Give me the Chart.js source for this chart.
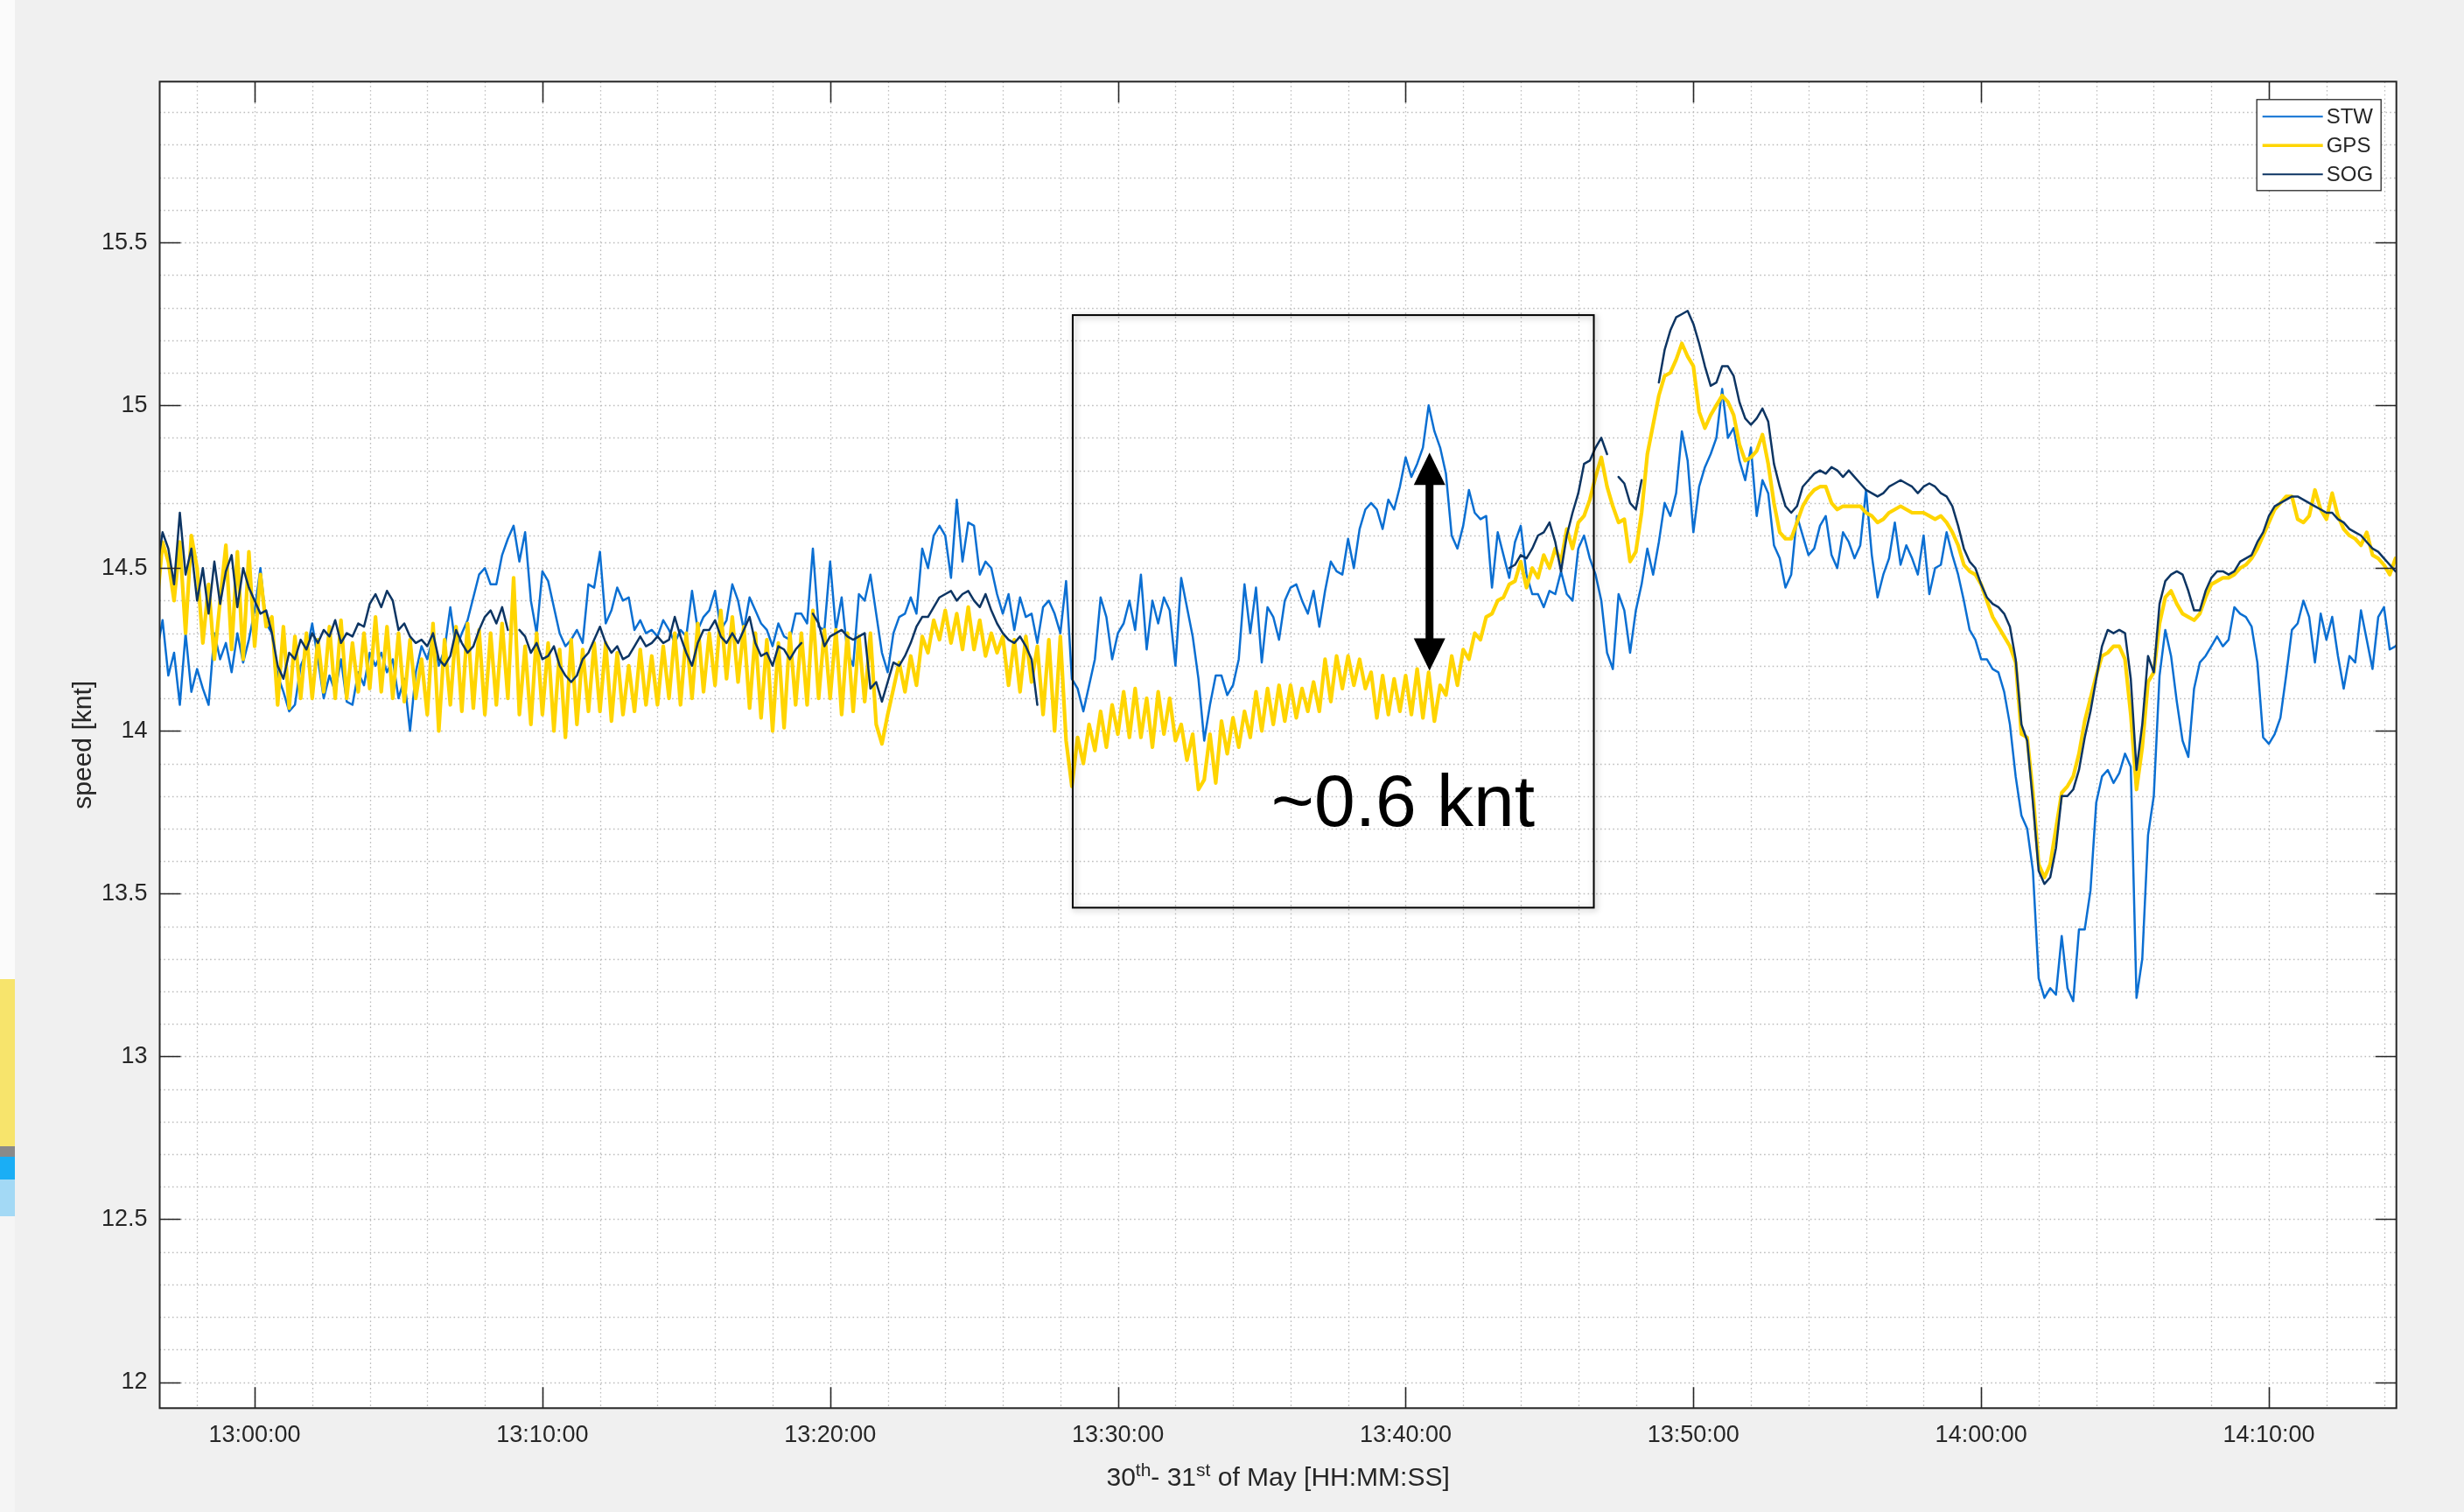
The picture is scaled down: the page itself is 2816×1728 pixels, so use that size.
<!DOCTYPE html>
<html>
<head>
<meta charset="utf-8">
<script src="https://cdn.jsdelivr.net/npm/chart.js@4.4.1/dist/chart.umd.min.js"></script>
<style>
  html, body { margin: 0; padding: 0; background: #f0f0f0; }
  #wrap { position: relative; width: 2816px; height: 1728px; overflow: hidden; background: #f0f0f0; }
  #c { position: absolute; left: 0; top: 0; }
  .deco { position: absolute; }
</style>
</head>
<body>
<div id="wrap">
  <div class="deco" style="left:0;top:0;width:17px;height:1119px;background:#fbfbfb"></div>
  <div class="deco" style="left:0;top:1119px;width:17px;height:191px;background:#f7e46c"></div>
  <div class="deco" style="left:0;top:1310px;width:17px;height:12px;background:#8a8a8a"></div>
  <div class="deco" style="left:0;top:1322px;width:17px;height:26px;background:#1aaef5"></div>
  <div class="deco" style="left:0;top:1348px;width:17px;height:42px;background:#a3d9f5"></div>
  <div class="deco" style="left:0;top:1390px;width:17px;height:338px;background:#f5f5f5"></div>
  <canvas id="c" width="2816" height="1728"></canvas>
</div>
<script>
// ---------------- data (minutes relative to 13:00:00, one sample every 12 s) ----------------
const T_START = -4.0;   // 12:56:00
const T_STEP = 0.2;     // minutes

const STW = [
14.25,14.30,14.20,14.24,14.34, 14.17,14.24,14.08,14.30,14.12, 14.19,14.13,14.08,14.30,14.22, 14.27,14.18,14.30,14.21,14.28,
14.37,14.50,14.33,14.30,14.17, 14.12,14.06,14.08,14.20,14.24, 14.33,14.22,14.10,14.17,14.12, 14.22,14.09,14.08,14.18,14.14,
14.24,14.20,14.24,14.18,14.22, 14.10,14.16,14.00,14.18,14.26, 14.22,14.29,14.20,14.25,14.38, 14.25,14.30,14.34,14.41,14.48,
14.50,14.45,14.45,14.54,14.59, 14.63,14.52,14.61,14.40,14.30, 14.49,14.46,14.38,14.30,14.26, 14.28,14.31,14.27,14.45,14.44,
14.55,14.33,14.37,14.44,14.40, 14.41,14.31,14.34,14.30,14.31, 14.29,14.34,14.31,14.27,14.31, 14.29,14.43,14.31,14.35,14.37,
14.43,14.31,14.34,14.45,14.40, 14.31,14.41,14.37,14.33,14.31, 14.26,14.33,14.29,14.28,14.36, 14.36,14.33,14.56,14.32,14.31,
14.52,14.31,14.41,14.24,14.20, 14.42,14.40,14.48,14.36,14.24, 14.18,14.30,14.35,14.36,14.41, 14.36,14.56,14.50,14.60,14.63,
14.60,14.47,14.71,14.52,14.64, 14.63,14.48,14.52,14.50,14.42, 14.36,14.42,14.31,14.41,14.35, 14.36,14.27,14.38,14.40,14.36,
14.30,14.46,14.16,14.13,14.06, 14.14,14.22,14.41,14.35,14.22, 14.30,14.33,14.40,14.31,14.48, 14.25,14.40,14.33,14.41,14.37,
14.20,14.47,14.38,14.29,14.16, 13.97,14.08,14.17,14.17,14.11, 14.14,14.22,14.45,14.30,14.44, 14.21,14.38,14.35,14.28,14.40,
14.44,14.45,14.40,14.36,14.43, 14.32,14.43,14.52,14.49,14.48, 14.59,14.50,14.62,14.68,14.70, 14.68,14.62,14.71,14.68,14.75,
14.84,14.78,14.82,14.87,15.00, 14.92,14.87,14.79,14.60,14.56, 14.63,14.74,14.67,14.65,14.66, 14.44,14.61,14.54,14.47,14.58,
14.63,14.48,14.42,14.42,14.38, 14.43,14.42,14.49,14.42,14.40, 14.56,14.60,14.53,14.48,14.40, 14.24,14.19,14.42,14.37,14.24,
14.37,14.45,14.56,14.48,14.58, 14.70,14.66,14.73,14.92,14.83, 14.61,14.75,14.81,14.85,14.90, 15.05,14.90,14.93,14.83,14.77,
14.87,14.66,14.77,14.73,14.57, 14.53,14.44,14.48,14.66,14.60, 14.54,14.56,14.63,14.66,14.54, 14.50,14.61,14.58,14.53,14.57,
14.74,14.54,14.41,14.48,14.53, 14.64,14.51,14.57,14.53,14.48, 14.60,14.42,14.50,14.51,14.61, 14.54,14.48,14.40,14.31,14.28,
14.22,14.22,14.19,14.18,14.12, 14.02,13.86,13.74,13.70,13.57, 13.24,13.18,13.21,13.19,13.37, 13.21,13.17,13.39,13.39,13.51,
13.78,13.86,13.88,13.84,13.87, 13.93,13.89,13.18,13.30,13.68, 13.80,14.17,14.31,14.23,14.09, 13.97,13.92,14.13,14.21,14.23,
14.26,14.29,14.26,14.28,14.38, 14.36,14.35,14.32,14.21,13.98, 13.96,13.99,14.04,14.17,14.31, 14.33,14.40,14.35,14.21,14.36,
14.28,14.35,14.23,14.13,14.23, 14.21,14.37,14.28,14.19,14.35, 14.38,14.25,14.26,14.28,14.30
];

const GPS = [
14.48,14.40,14.52,14.38,14.58, 14.52,14.40,14.58,14.30,14.60, 14.50,14.27,14.45,14.22,14.40, 14.57,14.25,14.55,14.22,14.55,
14.26,14.48,14.32,14.35,14.08, 14.32,14.07,14.29,14.10,14.30, 14.10,14.28,14.12,14.32,14.10, 14.34,14.10,14.27,14.12,14.30,
14.13,14.35,14.12,14.32,14.10, 14.30,14.09,14.28,14.10,14.22, 14.05,14.33,14.00,14.28,14.08, 14.32,14.06,14.33,14.07,14.31,
14.05,14.30,14.08,14.33,14.10, 14.47,14.05,14.26,14.02,14.30, 14.05,14.27,14.00,14.25,13.98, 14.28,14.02,14.25,14.06,14.27,
14.06,14.27,14.03,14.24,14.05, 14.20,14.06,14.25,14.08,14.23, 14.08,14.26,14.10,14.30,14.08, 14.30,14.10,14.33,14.12,14.30,
14.14,14.37,14.16,14.35,14.15, 14.32,14.07,14.30,14.04,14.28, 14.00,14.27,14.01,14.30,14.08, 14.30,14.08,14.37,14.10,14.31,
14.10,14.31,14.05,14.30,14.06, 14.29,14.09,14.30,14.02,13.96, 14.05,14.13,14.21,14.12,14.23, 14.14,14.29,14.24,14.34,14.28,
14.37,14.27,14.36,14.25,14.38, 14.25,14.34,14.23,14.30,14.24, 14.29,14.14,14.28,14.12,14.29, 14.15,14.26,14.05,14.28,14.00,
14.29,13.97,13.83,13.98,13.90, 14.02,13.94,14.06,13.95,14.08, 13.99,14.12,13.98,14.13,13.98, 14.10,13.95,14.12,13.99,14.10,
13.97,14.02,13.91,13.99,13.82, 13.85,13.99,13.84,14.03,13.93, 14.04,13.95,14.06,13.98,14.12, 14.00,14.13,14.02,14.14,14.03,
14.14,14.04,14.13,14.06,14.15, 14.06,14.22,14.09,14.23,14.13, 14.23,14.14,14.22,14.13,14.18, 14.04,14.17,14.05,14.16,14.06,
14.17,14.05,14.19,14.04,14.18, 14.03,14.14,14.11,14.23,14.14, 14.25,14.22,14.30,14.28,14.35, 14.36,14.40,14.41,14.45,14.46,
14.52,14.44,14.50,14.47,14.54, 14.50,14.56,14.52,14.62,14.56, 14.64,14.66,14.71,14.78,14.84, 14.75,14.69,14.64,14.65,14.52,
14.55,14.67,14.85,14.94,15.03, 15.09,15.10,15.14,15.19,15.15, 15.12,14.98,14.93,14.97,15.00, 15.03,15.01,14.97,14.88,14.83,
14.84,14.86,14.91,14.82,14.70, 14.61,14.59,14.59,14.64,14.69, 14.72,14.74,14.75,14.75,14.70, 14.68,14.69,14.69,14.69,14.69,
14.67,14.66,14.64,14.65,14.67, 14.68,14.69,14.68,14.67,14.67, 14.67,14.66,14.65,14.66,14.64, 14.61,14.57,14.51,14.49,14.48,
14.45,14.40,14.35,14.32,14.29, 14.26,14.21,13.99,13.98,13.81, 13.59,13.55,13.59,13.70,13.81, 13.83,13.86,13.93,14.03,14.10,
14.17,14.23,14.24,14.26,14.26, 14.22,14.05,13.82,13.95,14.15, 14.18,14.33,14.41,14.43,14.39, 14.36,14.35,14.34,14.36,14.41,
14.45,14.46,14.47,14.47,14.48, 14.50,14.51,14.53,14.56,14.60, 14.64,14.68,14.70,14.72,14.72, 14.65,14.64,14.66,14.74,14.68,
14.65,14.73,14.66,14.62,14.60, 14.59,14.57,14.61,14.54,14.53, 14.51,14.48,14.53,14.50,14.49
];

const SOG = [
14.50,14.55,14.48,14.49,14.61, 14.56,14.45,14.67,14.48,14.56, 14.40,14.50,14.36,14.52,14.39, 14.49,14.54,14.38,14.50,14.44,
14.40,14.36,14.37,14.30,14.20, 14.16,14.24,14.22,14.28,14.25, 14.30,14.27,14.31,14.29,14.34, 14.27,14.30,14.29,14.33,14.32,
14.39,14.42,14.38,14.43,14.40, 14.31,14.33,14.29,14.27,14.28, 14.26,14.30,14.22,14.20,14.23, 14.31,14.27,14.24,14.26,14.31,
14.35,14.37,14.33,14.38,14.31, null,14.31,14.29,14.24,14.27, 14.22,14.23,14.26,14.20,14.17, 14.15,14.17,14.22,14.24,14.28,
14.32,14.27,14.24,14.26,14.22, 14.23,14.26,14.29,14.26,14.27, 14.29,14.27,14.28,14.35,14.29, 14.24,14.20,14.27,14.31,14.31,
14.34,14.29,14.27,14.30,14.27, 14.31,14.35,14.27,14.23,14.24, 14.20,14.26,14.25,14.22,14.25, 14.27,null,14.36,14.33,14.26,
14.29,14.30,14.31,14.29,14.28, 14.29,14.30,14.13,14.15,14.09, 14.15,14.21,14.20,14.23,14.27, 14.32,14.35,14.35,14.38,14.41,
14.42,14.43,14.40,14.42,14.43, 14.40,14.38,14.42,14.37,14.33, 14.30,14.28,14.27,14.29,14.26, 14.22,14.08,null,null,null,
null,null,null,null,null, null,null,null,null,null, null,null,null,null,null, null,null,null,null,null,
null,null,null,null,null, null,null,null,null,null, null,null,null,null,null, null,null,null,null,null,
null,null,null,null,null, null,null,null,null,null, null,null,null,null,null, null,null,null,null,null,
null,null,null,null,null, null,null,null,null,null, null,null,null,null,null, null,null,null,14.50,14.51,
14.54,14.53,14.56,14.60,14.61, 14.64,14.58,14.49,14.60,14.67, 14.73,14.82,14.83,14.87,14.90, 14.85,null,14.78,14.76,14.70,
14.68,14.77,null,null,15.07, 15.17,15.23,15.27,15.28,15.29, 15.25,15.19,15.12,15.06,15.07, 15.12,15.12,15.09,15.01,14.96,
14.94,14.96,14.99,14.95,14.82, 14.75,14.69,14.67,14.69,14.75, 14.77,14.79,14.80,14.79,14.81, 14.80,14.78,14.80,14.78,14.76,
14.74,14.73,14.72,14.73,14.75, 14.76,14.77,14.76,14.75,14.73, 14.75,14.76,14.75,14.73,14.72, 14.69,14.63,14.56,14.52,14.50,
14.45,14.41,14.39,14.38,14.36, 14.32,14.22,14.02,13.97,13.78, 13.57,13.53,13.55,13.64,13.80, 13.80,13.82,13.88,13.98,14.06,
14.16,14.26,14.31,14.30,14.31, 14.30,14.16,13.88,14.02,14.23, 14.18,14.39,14.46,14.48,14.49, 14.48,14.43,14.37,14.37,14.43,
14.47,14.49,14.49,14.48,14.49, 14.52,14.53,14.54,14.58,14.61, 14.66,14.69,14.70,14.71,14.72, 14.72,14.71,14.70,14.69,14.68,
14.67,14.67,14.65,14.64,14.62, 14.61,14.60,14.58,14.56,14.55, 14.53,14.51,14.49,14.48,14.47
];

const SERIES_NAMES = ['STW', 'GPS', 'SOG'];

// axes
const X_MIN = -3.30, X_MAX = 74.43;        // minutes after 13:00:00
const Y_MIN = 11.92, Y_MAX = 15.994;        // knots
const X_TICKS = [0, 10, 20, 30, 40, 50, 60, 70];
const X_TICK_LABELS = ['13:00:00','13:10:00','13:20:00','13:30:00','13:40:00','13:50:00','14:00:00','14:10:00'];
const Y_TICKS = [12, 12.5, 13, 13.5, 14, 14.5, 15, 15.5];
const Y_TICK_LABELS = ['12','12.5','13','13.5','14','14.5','15','15.5'];
const X_MINOR_STEP = 2, Y_MINOR_STEP = 0.1;
const Y_TITLE = 'speed [knt]';

// annotation (data coordinates)
const NOTE_BOX = { t0: 28.43, t1: 46.54, v0: 13.457, v1: 15.277 };
const NOTE_ARROW = { t: 40.83, v0: 14.185, v1: 14.855 };
const NOTE_TEXT = { t: 35.33, v: 13.707, text: '~0.6 knt' };

// ---------------- styles ----------------
const COLORS = ['#0b6fd2', '#ffd500', '#0d3563'];
const WIDTHS = [2.5, 4.2, 2.5];
const FONT = '"Liberation Sans", Arial, Helvetica, sans-serif';
const AXIS_COLOR = '#262626';

function toPoints(arr) { return arr.map((v, i) => ({ x: T_START + i * T_STEP, y: v })); }

const framePlugin = {
  id: 'frame',
  beforeDatasetsDraw(chart) {
    const { ctx, chartArea: a, scales: { x, y } } = chart;
    ctx.save();
    ctx.fillStyle = '#ffffff';
    ctx.fillRect(a.left, a.top, a.right - a.left, a.bottom - a.top);
    ctx.beginPath(); ctx.rect(a.left, a.top, a.right - a.left, a.bottom - a.top); ctx.clip();
    ctx.strokeStyle = '#bdbdbd';
    ctx.lineWidth = 1.3;
    ctx.setLineDash([1.6, 3.2]);
    for (let k = Math.ceil(Y_MIN / Y_MINOR_STEP); k * Y_MINOR_STEP <= Y_MAX; k++) {
      const py = Math.round(y.getPixelForValue(k * Y_MINOR_STEP)) + 0.5;
      ctx.beginPath(); ctx.moveTo(a.left, py); ctx.lineTo(a.right, py); ctx.stroke();
    }
    for (let k = Math.ceil(X_MIN / X_MINOR_STEP); k * X_MINOR_STEP <= X_MAX; k++) {
      const px = Math.round(x.getPixelForValue(k * X_MINOR_STEP)) + 0.5;
      ctx.beginPath(); ctx.moveTo(px, a.top); ctx.lineTo(px, a.bottom); ctx.stroke();
    }
    ctx.restore();
  },
  afterDatasetsDraw(chart) {
    const { ctx, chartArea: a, scales: { x, y } } = chart;
    ctx.save();
    ctx.setLineDash([]);
    // box + inward ticks
    ctx.strokeStyle = AXIS_COLOR;
    ctx.lineWidth = 1.6;
    const TL = 24;
    ctx.beginPath();
    Y_TICKS.forEach(v => {
      const py = Math.round(y.getPixelForValue(v)) + 0.5;
      ctx.moveTo(a.left, py); ctx.lineTo(a.left + TL, py);
      ctx.moveTo(a.right, py); ctx.lineTo(a.right - TL, py);
    });
    X_TICKS.forEach(v => {
      const px = Math.round(x.getPixelForValue(v)) + 0.5;
      ctx.moveTo(px, a.bottom); ctx.lineTo(px, a.bottom - TL);
      ctx.moveTo(px, a.top); ctx.lineTo(px, a.top + TL);
    });
    ctx.stroke();
    ctx.lineWidth = 2;
    ctx.strokeRect(a.left, a.top, a.right - a.left, a.bottom - a.top);

    // annotation rectangle with soft shadow
    const bx0 = x.getPixelForValue(NOTE_BOX.t0), bx1 = x.getPixelForValue(NOTE_BOX.t1);
    const by0 = y.getPixelForValue(NOTE_BOX.v1), by1 = y.getPixelForValue(NOTE_BOX.v0);
    ctx.save();
    ctx.shadowColor = 'rgba(0,0,0,0.35)';
    ctx.shadowBlur = 7; ctx.shadowOffsetX = 2; ctx.shadowOffsetY = 2;
    ctx.strokeStyle = '#000'; ctx.lineWidth = 2;
    ctx.strokeRect(bx0, by0, bx1 - bx0, by1 - by0);
    ctx.restore();

    // double-headed arrow
    const ax = x.getPixelForValue(NOTE_ARROW.t);
    const ayTop = y.getPixelForValue(NOTE_ARROW.v1), ayBot = y.getPixelForValue(NOTE_ARROW.v0);
    const HL = 37, HW = 18;
    ctx.fillStyle = '#000'; ctx.strokeStyle = '#000';
    ctx.lineWidth = 9;
    ctx.beginPath(); ctx.moveTo(ax, ayTop + HL - 2); ctx.lineTo(ax, ayBot - HL + 2); ctx.stroke();
    ctx.beginPath(); ctx.moveTo(ax, ayTop); ctx.lineTo(ax - HW, ayTop + HL); ctx.lineTo(ax + HW, ayTop + HL); ctx.closePath(); ctx.fill();
    ctx.beginPath(); ctx.moveTo(ax, ayBot); ctx.lineTo(ax - HW, ayBot - HL); ctx.lineTo(ax + HW, ayBot - HL); ctx.closePath(); ctx.fill();

    // annotation text
    ctx.font = '84px ' + FONT;
    ctx.textAlign = 'left'; ctx.textBaseline = 'alphabetic';
    ctx.fillText(NOTE_TEXT.text, x.getPixelForValue(NOTE_TEXT.t), y.getPixelForValue(NOTE_TEXT.v));

    // legend
    const lx0 = a.right - 160, ly0 = a.top + 20, lw = 142, lh = 104;
    ctx.fillStyle = '#ffffff';
    ctx.fillRect(lx0, ly0, lw, lh);
    ctx.strokeStyle = AXIS_COLOR; ctx.lineWidth = 1.3;
    ctx.strokeRect(lx0 + 0.5, ly0 + 0.5, lw, lh);
    ctx.font = '24px ' + FONT;
    ctx.textBaseline = 'middle';
    chart.data.datasets.forEach((ds, i) => {
      const cy = ly0 + 20 + i * 33;
      ctx.strokeStyle = ds.borderColor; ctx.lineWidth = i === 1 ? 3.4 : 2;
      ctx.beginPath(); ctx.moveTo(lx0 + 7, cy); ctx.lineTo(lx0 + 76, cy); ctx.stroke();
      ctx.fillStyle = AXIS_COLOR;
      ctx.fillText(ds.label, lx0 + 80, cy + 1);
    });

    // axis titles
    ctx.fillStyle = AXIS_COLOR;
    ctx.save();
    ctx.translate(104, (a.top + a.bottom) / 2);
    ctx.rotate(-Math.PI / 2);
    ctx.font = '30px ' + FONT; ctx.textAlign = 'center'; ctx.textBaseline = 'alphabetic';
    ctx.fillText(Y_TITLE, 0, 0);
    ctx.restore();

    const parts = [['30', 0], ['th', 1], ['- 31', 0], ['st', 1], [' of May [HH:MM:SS]', 0]];
    const fMain = '30px ' + FONT, fSup = '21px ' + FONT;
    let total = 0;
    parts.forEach(([s, sup]) => { ctx.font = sup ? fSup : fMain; total += ctx.measureText(s).width; });
    let cx = (a.left + a.right) / 2 - total / 2;
    const base = 1698;
    ctx.textAlign = 'left'; ctx.textBaseline = 'alphabetic';
    parts.forEach(([s, sup]) => {
      ctx.font = sup ? fSup : fMain;
      ctx.fillText(s, cx, sup ? base - 11 : base);
      cx += ctx.measureText(s).width;
    });
    ctx.restore();
  }
};

new Chart(document.getElementById('c'), {
  type: 'line',
  data: {
    datasets: [STW, GPS, SOG].map((arr, i) => ({
      label: SERIES_NAMES[i],
      data: toPoints(arr),
      borderColor: COLORS[i],
      borderWidth: WIDTHS[i],
      borderJoinStyle: 'round',
      borderCapStyle: 'round',
      pointRadius: 0,
      tension: 0,
      spanGaps: false,
      fill: false,
      clip: 0,
      order: 2 - i
    }))
  },
  options: {
    responsive: false,
    animation: false,
    devicePixelRatio: 1,
    events: [],
    layout: { padding: { left: 0, top: 93.3, right: 77.3, bottom: 0 } },
    plugins: { legend: { display: false }, tooltip: { enabled: false }, title: { display: false } },
    scales: {
      x: {
        type: 'linear', min: X_MIN, max: X_MAX, bounds: 'data',
        grid: { display: false, drawTicks: false }, border: { display: false },
        afterBuildTicks: s => { s.ticks = X_TICKS.map(v => ({ value: v })); },
        afterFit: s => { s.height = 1728 - 1609.3; },
        ticks: {
          autoSkip: false, maxRotation: 0, minRotation: 0, padding: 15,
          color: AXIS_COLOR, font: { family: FONT, size: 27 },
          callback: (v, i) => X_TICK_LABELS[i]
        }
      },
      y: {
        type: 'linear', min: Y_MIN, max: Y_MAX, bounds: 'data',
        grid: { display: false, drawTicks: false }, border: { display: false },
        afterBuildTicks: s => { s.ticks = Y_TICKS.map(v => ({ value: v })); },
        afterFit: s => { s.width = 182.5; },
        ticks: {
          autoSkip: false, padding: 14,
          color: AXIS_COLOR, font: { family: FONT, size: 27 },
          callback: (v, i) => Y_TICK_LABELS[i]
        }
      }
    }
  },
  plugins: [framePlugin]
});
</script>
</body>
</html>
